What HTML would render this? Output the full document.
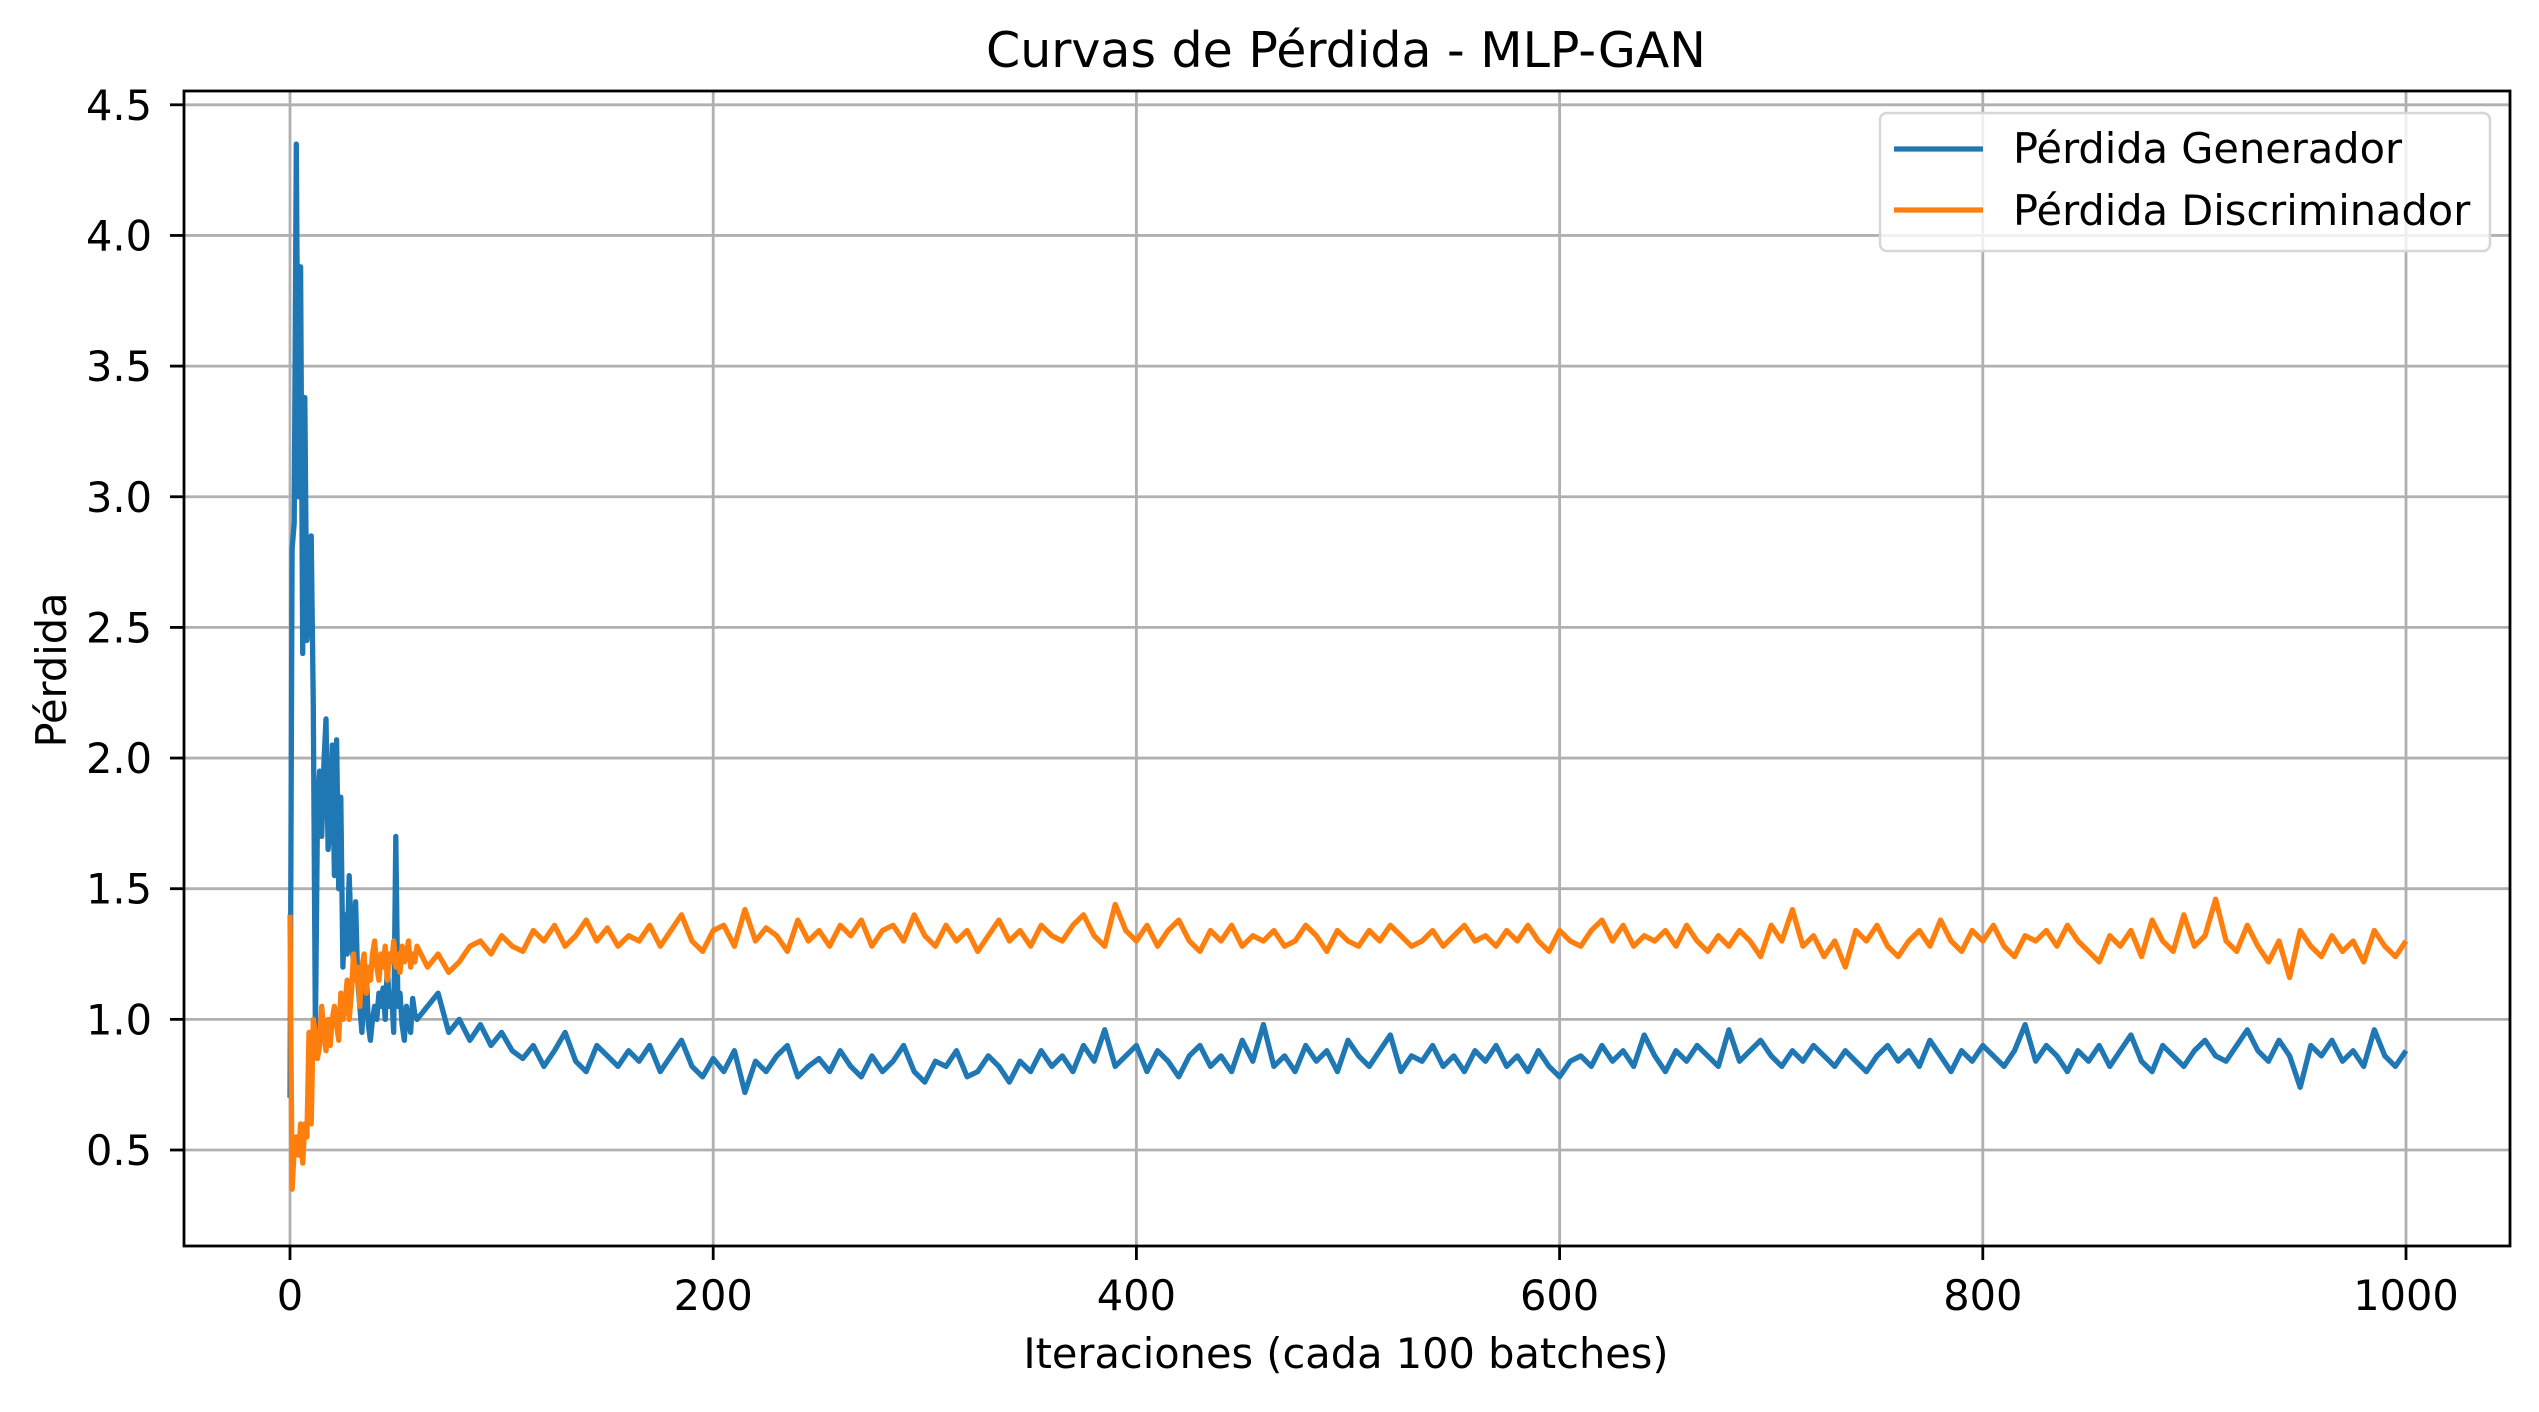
<!DOCTYPE html>
<html><head><meta charset="utf-8"><style>
body{margin:0;background:#fff}
svg text{font-family:"DejaVu Sans","Liberation Sans",sans-serif;fill:#000}
</style></head><body>
<svg id="chart" width="2539" height="1407" xmlns="http://www.w3.org/2000/svg">
<rect width="2539" height="1407" fill="#fff"/>
<g id="grid"></g><g id="series"></g><g id="axes"></g>
<text x="1346" y="67" font-size="49" text-anchor="middle">Curvas de Pérdida - MLP-GAN</text>
<text x="1346" y="1368" font-size="41.5" text-anchor="middle">Iteraciones (cada 100 batches)</text>
<text transform="translate(66,670) rotate(-90)" font-size="41.5" text-anchor="middle">Pérdida</text>
<g>
<rect x="1880" y="113" width="610" height="138" rx="7" fill="#fff" fill-opacity="0.8" stroke="#d6d6d6" stroke-width="2.5"/>
<line x1="1894" y1="149" x2="1983" y2="149" stroke="#1f77b4" stroke-width="5.3"/>
<text x="2013" y="163" font-size="41.5">Pérdida Generador</text>
<line x1="1894" y1="210" x2="1983" y2="210" stroke="#ff7f0e" stroke-width="5.3"/>
<text x="2013" y="225" font-size="41.5">Pérdida Discriminador</text>
</g>
</svg>
<script>
const xTicks=[0,200,400,600,800,1000];
const yTicks=[0.5,1.0,1.5,2.0,2.5,3.0,3.5,4.0,4.5];
const genEarly=[0.7,2.8,2.9,4.35,3.0,3.88,2.4,3.38,2.45,2.6,2.85,2.2,0.95,1.8,1.95,1.7,1.98,2.15,1.65,1.75,2.05,1.55,2.07,1.5,1.85,1.2,1.4,1.25,1.55,1.3,1.22,1.45,1.15,1.05,0.95,1.1,1.2,0.98,0.92,1.0,1.05,1.0,1.1,1.05,1.12,1.0,1.2,1.05,1.1,0.95,1.7,1.05,1.1,0.98,0.92,1.05,1.0,0.95,1.08,1.02,1.0];
const discEarly=[1.4,0.35,0.5,0.55,0.48,0.6,0.45,0.6,0.55,0.95,0.6,1.0,0.95,0.85,0.9,1.05,0.95,0.88,1.0,0.9,1.0,1.05,0.98,0.92,1.1,1.0,1.05,1.15,1.0,1.1,1.25,1.15,1.2,1.05,1.2,1.25,1.1,1.2,1.15,1.25,1.3,1.2,1.15,1.25,1.2,1.28,1.15,1.25,1.22,1.3,1.2,1.25,1.18,1.28,1.22,1.25,1.3,1.2,1.25,1.22,1.28];
const genLate=[1.05,1.1,0.95,1.0,0.92,0.98,0.9,0.95,0.88,0.85,0.9,0.82,0.88,0.95,0.84,0.8,0.9,0.86,0.82,0.88,
0.84,0.9,0.8,0.86,0.92,0.82,0.78,0.85,0.8,0.88,0.72,0.84,0.8,0.86,0.9,0.78,0.82,0.85,0.8,0.88,
0.82,0.78,0.86,0.8,0.84,0.9,0.8,0.76,0.84,0.82,0.88,0.78,0.8,0.86,0.82,0.76,0.84,0.8,0.88,0.82,
0.86,0.8,0.9,0.84,0.96,0.82,0.86,0.9,0.8,0.88,0.84,0.78,0.86,0.9,0.82,0.86,0.8,0.92,0.84,0.98,
0.82,0.86,0.8,0.9,0.84,0.88,0.8,0.92,0.86,0.82,0.88,0.94,0.8,0.86,0.84,0.9,0.82,0.86,0.8,0.88,
0.84,0.9,0.82,0.86,0.8,0.88,0.82,0.78,0.84,0.86,0.82,0.9,0.84,0.88,0.82,0.94,0.86,0.8,0.88,0.84,
0.9,0.86,0.82,0.96,0.84,0.88,0.92,0.86,0.82,0.88,0.84,0.9,0.86,0.82,0.88,0.84,0.8,0.86,0.9,0.84,
0.88,0.82,0.92,0.86,0.8,0.88,0.84,0.9,0.86,0.82,0.88,0.98,0.84,0.9,0.86,0.8,0.88,0.84,0.9,0.82,
0.88,0.94,0.84,0.8,0.9,0.86,0.82,0.88,0.92,0.86,0.84,0.9,0.96,0.88,0.84,0.92,0.86,0.74,0.9,0.86,
0.92,0.84,0.88,0.82,0.96,0.86,0.82,0.88];
const discLate=[1.2,1.25,1.18,1.22,1.28,1.3,1.25,1.32,1.28,1.26,1.34,1.3,1.36,1.28,1.32,1.38,1.3,1.35,1.28,1.32,
1.3,1.36,1.28,1.34,1.4,1.3,1.26,1.34,1.36,1.28,1.42,1.3,1.35,1.32,1.26,1.38,1.3,1.34,1.28,1.36,
1.32,1.38,1.28,1.34,1.36,1.3,1.4,1.32,1.28,1.36,1.3,1.34,1.26,1.32,1.38,1.3,1.34,1.28,1.36,1.32,
1.3,1.36,1.4,1.32,1.28,1.44,1.34,1.3,1.36,1.28,1.34,1.38,1.3,1.26,1.34,1.3,1.36,1.28,1.32,1.3,
1.34,1.28,1.3,1.36,1.32,1.26,1.34,1.3,1.28,1.34,1.3,1.36,1.32,1.28,1.3,1.34,1.28,1.32,1.36,1.3,
1.32,1.28,1.34,1.3,1.36,1.3,1.26,1.34,1.3,1.28,1.34,1.38,1.3,1.36,1.28,1.32,1.3,1.34,1.28,1.36,
1.3,1.26,1.32,1.28,1.34,1.3,1.24,1.36,1.3,1.42,1.28,1.32,1.24,1.3,1.2,1.34,1.3,1.36,1.28,1.24,
1.3,1.34,1.28,1.38,1.3,1.26,1.34,1.3,1.36,1.28,1.24,1.32,1.3,1.34,1.28,1.36,1.3,1.26,1.22,1.32,
1.28,1.34,1.24,1.38,1.3,1.26,1.4,1.28,1.32,1.46,1.3,1.26,1.36,1.28,1.22,1.3,1.16,1.34,1.28,1.24,
1.32,1.26,1.3,1.22,1.34,1.28,1.24,1.3];
const earlyStep=1, lateStart=65, lateStep=5;

const L=184,R=2510,T=91,B=1246;
const xs=v=>290+(v/1000)*(2406-290);
const ys=v=>1150-(v-0.5)*261.3;
const NS='http://www.w3.org/2000/svg';
function mk(tag,parent){const e=document.createElementNS(NS,tag);parent.appendChild(e);return e;}
const grid=document.getElementById('grid'),axes=document.getElementById('axes'),ser=document.getElementById('series');
xTicks.forEach(t=>{
 const g=mk('line',grid);
 
 
 g.setAttribute('x1',xs(t));g.setAttribute('x2',xs(t));g.setAttribute('y1',T);g.setAttribute('y2',B);g.setAttribute('stroke','#b0b0b0');g.setAttribute('stroke-width','2.8');
 const tk=mk('line',axes);
 
 
 tk.setAttribute('x1',xs(t));tk.setAttribute('x2',xs(t));tk.setAttribute('y1',B);tk.setAttribute('y2',B+14);tk.setAttribute('stroke','#000');tk.setAttribute('stroke-width','2.8');
 const tx=mk('text',axes);
 
 
 tx.setAttribute('x',xs(t));tx.setAttribute('y',1310);tx.setAttribute('font-size','41.5');tx.setAttribute('text-anchor','middle');tx.textContent=t;
});
yTicks.forEach(t=>{
 const g=mk('line',grid);
 
 
 g.setAttribute('x1',L);g.setAttribute('x2',R);g.setAttribute('y1',ys(t));g.setAttribute('y2',ys(t));g.setAttribute('stroke','#b0b0b0');g.setAttribute('stroke-width','2.8');
 const tk=mk('line',axes);
 
 
 tk.setAttribute('x1',L-14);tk.setAttribute('x2',L);tk.setAttribute('y1',ys(t));tk.setAttribute('y2',ys(t));tk.setAttribute('stroke','#000');tk.setAttribute('stroke-width','2.8');
 const tx=mk('text',axes);
 
 
 tx.setAttribute('x',L-32);tx.setAttribute('y',ys(t)+15);tx.setAttribute('font-size','41.5');tx.setAttribute('text-anchor','end');tx.textContent=t.toFixed(1);
});
const frame=mk('rect',axes);


frame.setAttribute('x',L);frame.setAttribute('y',T);frame.setAttribute('width',R-L);frame.setAttribute('height',B-T);frame.setAttribute('fill','none');frame.setAttribute('stroke','#000');frame.setAttribute('stroke-width','2.8');
function pts(early,late){
 const p=[];early.forEach((v,i)=>p.push([i*earlyStep,v]));late.forEach((v,i)=>p.push([lateStart+i*lateStep,v]));
 return p.map(([x,v])=>xs(x).toFixed(1)+','+ys(v).toFixed(1)).join(' ');
}
const pg=mk('polyline',ser);


pg.setAttribute('points',pts(genEarly,genLate));pg.setAttribute('fill','none');pg.setAttribute('stroke','#1f77b4');pg.setAttribute('stroke-width','5.3');pg.setAttribute('stroke-linejoin','round');
const pd=mk('polyline',ser);


pd.setAttribute('points',pts(discEarly,discLate));pd.setAttribute('fill','none');pd.setAttribute('stroke','#ff7f0e');pd.setAttribute('stroke-width','5.3');pd.setAttribute('stroke-linejoin','round');
</script>
</body></html>
